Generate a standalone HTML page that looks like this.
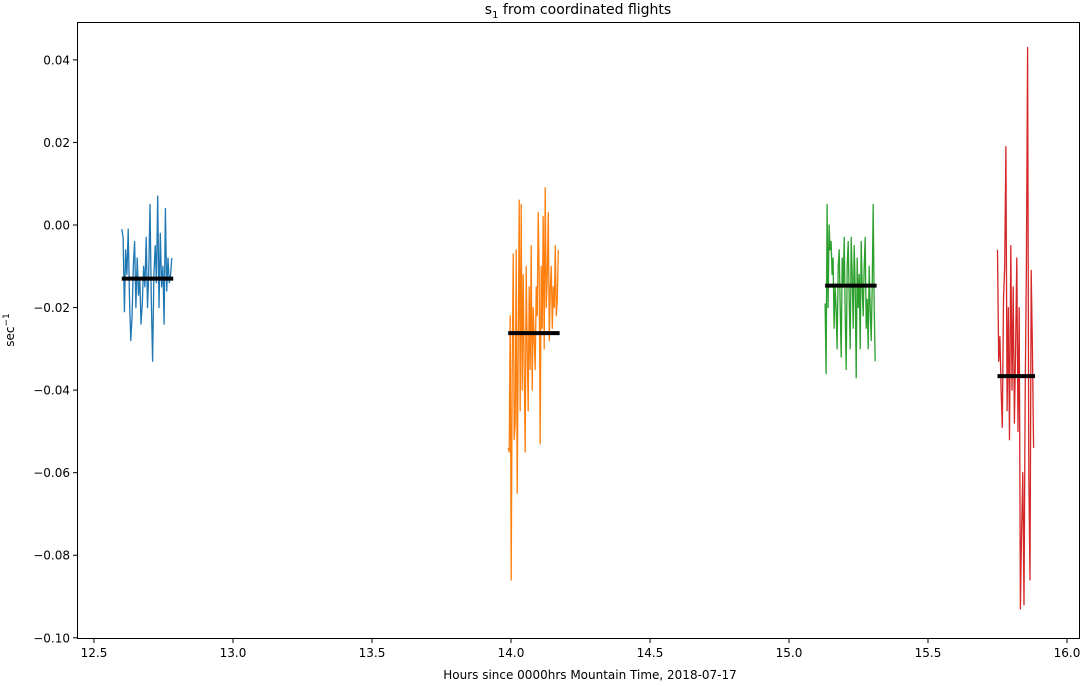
<!DOCTYPE html>
<html><head><meta charset="utf-8">
<style>
body{margin:0;background:#fff;font-family:"Liberation Sans","DejaVu Sans",sans-serif;}
svg text{font-family:"DejaVu Sans","Liberation Sans",sans-serif;font-size:12px;fill:#000;}
</style></head>
<body>
<svg id="chart" width="1082" height="681">
<rect x="77.5" y="22.5" width="1002" height="616" fill="none" stroke="#000" stroke-width="1"/>
<text x="578" y="14" text-anchor="middle" style="font-size:14px">s<tspan dy="4" style="font-size:10px">1</tspan><tspan dy="-4"> from coordinated flights</tspan></text>
<text x="590" y="679" text-anchor="middle">Hours since 0000hrs Mountain Time, 2018-07-17</text>
<text transform="translate(14,330) rotate(-90)" text-anchor="middle">sec<tspan dy="-5" style="font-size:9px">−1</tspan></text>
<g id="axes"></g>
<g id="series"></g>
</svg>
<script>
const xTicks=[12.5,13.0,13.5,14.0,14.5,15.0,15.5,16.0];
const xTickLabels=["12.5","13.0","13.5","14.0","14.5","15.0","15.5","16.0"];
const yTicks=[0.04,0.02,0.00,-0.02,-0.04,-0.06,-0.08,-0.10];
const yTickLabels=["0.04","0.02","0.00","−0.02","−0.04","−0.06","−0.08","−0.10"];
const flightNames=["flight-1","flight-2","flight-3","flight-4"];
const flightColors=["#1f77b4","#ff7f0e","#2ca02c","#d62728"];
const flightStart=[12.60,13.99,15.13,15.75];
const flightEnd=[12.78,14.17,15.31,15.88];
const flight1=[-0.001,-0.003,-0.021,-0.006,-0.012,-0.001,-0.018,-0.028,-0.022,-0.010,-0.004,-0.020,-0.008,-0.017,-0.013,-0.024,-0.019,-0.010,-0.015,-0.003,-0.020,-0.012,0.005,-0.018,-0.033,-0.012,-0.005,-0.014,0.007,-0.020,-0.002,-0.015,-0.010,-0.024,0.004,-0.016,-0.008,-0.014,-0.012,-0.008];
const flight2=[-0.054,-0.055,-0.022,-0.086,-0.035,-0.007,-0.052,-0.048,-0.006,-0.065,-0.030,0.006,-0.045,0.005,-0.040,-0.012,-0.035,-0.055,-0.010,-0.030,-0.045,-0.015,-0.035,-0.005,-0.040,-0.020,-0.028,-0.035,-0.015,-0.022,0.003,-0.013,-0.053,-0.010,-0.025,0.002,-0.030,0.009,-0.020,-0.012,0.003,-0.028,-0.015,-0.010,-0.025,-0.015,-0.020,-0.005,-0.022,-0.018,-0.006];
const flight3=[-0.019,-0.036,0.005,-0.020,0.000,-0.006,-0.004,-0.012,-0.008,-0.025,-0.015,-0.020,-0.030,-0.010,-0.006,-0.020,-0.032,-0.008,-0.015,-0.003,-0.022,-0.035,-0.010,-0.004,-0.018,-0.030,-0.003,-0.012,-0.025,-0.005,-0.015,-0.037,-0.008,-0.020,-0.012,-0.030,-0.004,-0.015,-0.022,-0.010,-0.003,-0.025,-0.018,-0.030,-0.010,-0.020,-0.028,-0.015,0.005,-0.020,-0.033];
const flight4=[-0.006,-0.033,-0.027,-0.040,-0.049,-0.018,-0.010,0.019,-0.045,-0.020,-0.052,-0.005,-0.040,-0.015,-0.048,-0.030,-0.008,-0.050,-0.020,-0.093,-0.074,-0.060,-0.092,-0.040,-0.010,0.043,-0.060,-0.086,-0.011,-0.030,-0.054];
const flightMeans=[-0.0130,-0.0262,-0.0147,-0.0366];
const flightValues=[flight1,flight2,flight3,flight4];

const NS="http://www.w3.org/2000/svg";
function xs(v){return 94+(v-12.5)*278;}
function ys(v){return 225-v*4128;}
const axes=document.getElementById('axes');
const series=document.getElementById('series');
function mk(tag,attrs,parent){const e=document.createElementNS(NS,tag);for(const k in attrs)e.setAttribute(k,attrs[k]);parent.appendChild(e);return e;}
xTicks.forEach((t,i)=>{
  const X=xs(t);
  const l=mk('line',{x1:X,x2:X,y1:638.5,y2:643,stroke:'#000'},axes);
  
  
  const tx=mk('text',{x:X,y:657,'text-anchor':'middle'},axes);
  tx.textContent=xTickLabels[i];
  
  
});
yTicks.forEach((t,i)=>{
  const Y=ys(t);
  const l=mk('line',{x1:73,x2:77.5,y1:Y,y2:Y,stroke:'#000'},axes);
  
  
  const tx=mk('text',{x:70,y:Y+4.5,'text-anchor':'end'},axes);
  tx.textContent=yTickLabels[i];
  
  
});
flightValues.forEach((vals,s)=>{
  const n=vals.length, st=flightStart[s], step=(flightEnd[s]-st)/(n-1);
  const pts=vals.map((v,i)=>xs(st+i*step).toFixed(1)+','+ys(v).toFixed(1)).join(' ');
  const p=mk('polyline',{points:pts,fill:'none',stroke:flightColors[s],'stroke-width':1.3,'stroke-linejoin':'round'},series);
  
  
});
flightMeans.forEach((m,s)=>{
  const l=mk('line',{x1:xs(flightStart[s]),x2:xs(flightEnd[s]+0.005),y1:ys(m),y2:ys(m),stroke:'#000','stroke-width':4},series);
  
  
});
</script>
</body></html>
